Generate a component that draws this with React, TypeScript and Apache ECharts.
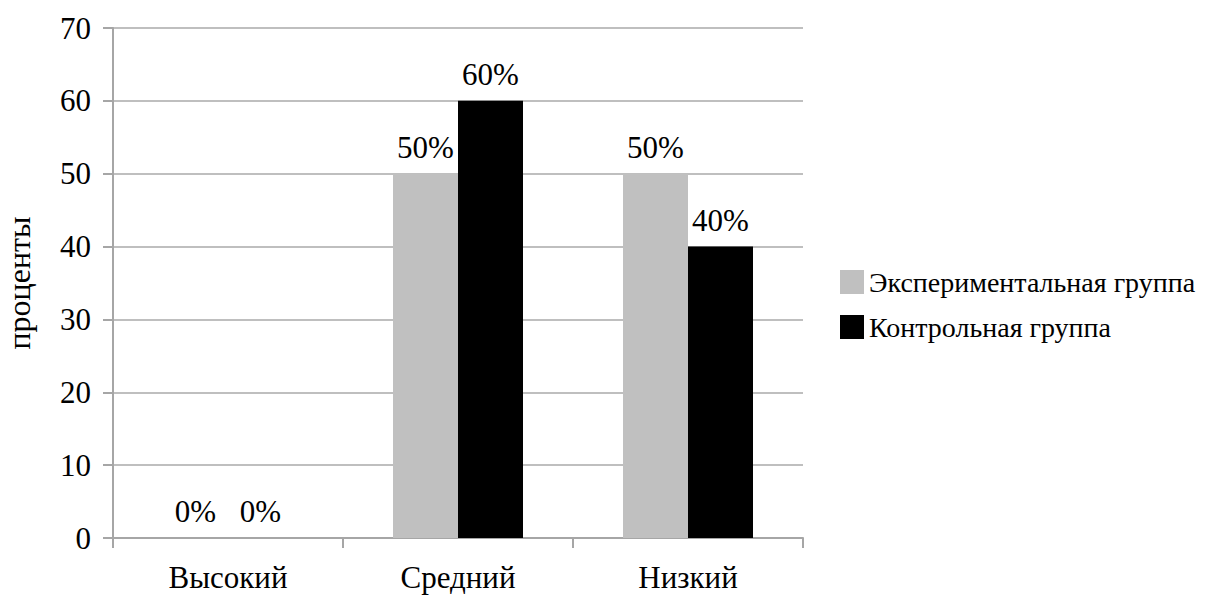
import React, { useEffect, useRef } from "react";
import * as echarts from "echarts";

const categories = ["Высокий", "Средний", "Низкий"];
const experimental = [0, 50, 50];
const control = [0, 60, 40];
const seriesNames = ["Экспериментальная группа", "Контрольная группа"];
const yAxisName = "проценты";

export default function App() {
  const ref = useRef<HTMLDivElement>(null);
  useEffect(() => {
    if (!ref.current) return;
    const chart = echarts.init(ref.current, undefined, { renderer: "svg" });
    const font = "Times New Roman";
    const label = {
      show: true,
      position: "top" as const,
      distance: 11,
      formatter: (p: any) => p.value + "%",
      color: "#000",
      fontFamily: font,
      fontSize: 31,
    };
    chart.setOption({
      animation: false,
      backgroundColor: "#fff",
      grid: { left: 113, right: 411, top: 28, bottom: 58, outerBoundsMode: "none", containLabel: false },
      legend: {
        orient: "vertical",
        left: 835,
        top: 262,
        icon: "rect",
        itemWidth: 24,
        itemHeight: 24,
        itemGap: 15,
        textStyle: { fontFamily: font, fontSize: 28, color: "#000", lineHeight: 30 },
        data: seriesNames,
      },
      xAxis: {
        type: "category",
        data: categories,
        axisLine: { lineStyle: { color: "#a6a6a6", width: 2 } },
        axisTick: { show: true, length: 10, lineStyle: { color: "#a6a6a6", width: 2 } },
        axisLabel: { color: "#000", fontFamily: font, fontSize: 31, margin: 24 },
      },
      yAxis: {
        type: "value",
        min: 0,
        max: 70,
        interval: 10,
        name: yAxisName,
        nameLocation: "middle",
        nameGap: 78,
        nameTextStyle: { color: "#000", fontFamily: font, fontSize: 32 },
        axisLine: { show: true, lineStyle: { color: "#a6a6a6", width: 2 } },
        axisTick: { show: true, length: 10, lineStyle: { color: "#a6a6a6", width: 2 } },
        axisLabel: { color: "#000", fontFamily: font, fontSize: 31, margin: 22 },
        splitLine: { lineStyle: { color: "#bfbfbf", width: 2 } },
      },
      series: [
        {
          name: seriesNames[0],
          type: "bar",
          data: experimental,
          barWidth: 65,
          barGap: "0%",
          itemStyle: { color: "#c0c0c0" },
          label,
        },
        {
          name: seriesNames[1],
          type: "bar",
          data: control,
          barWidth: 65,
          barGap: "0%",
          itemStyle: { color: "#000" },
          label,
        },
      ],
    });
    return () => chart.dispose();
  }, []);
  return (
    <div
      ref={ref}
      style={{ position: "absolute", left: 0, top: 0, width: 1214, height: 596 }}
    />
  );
}
